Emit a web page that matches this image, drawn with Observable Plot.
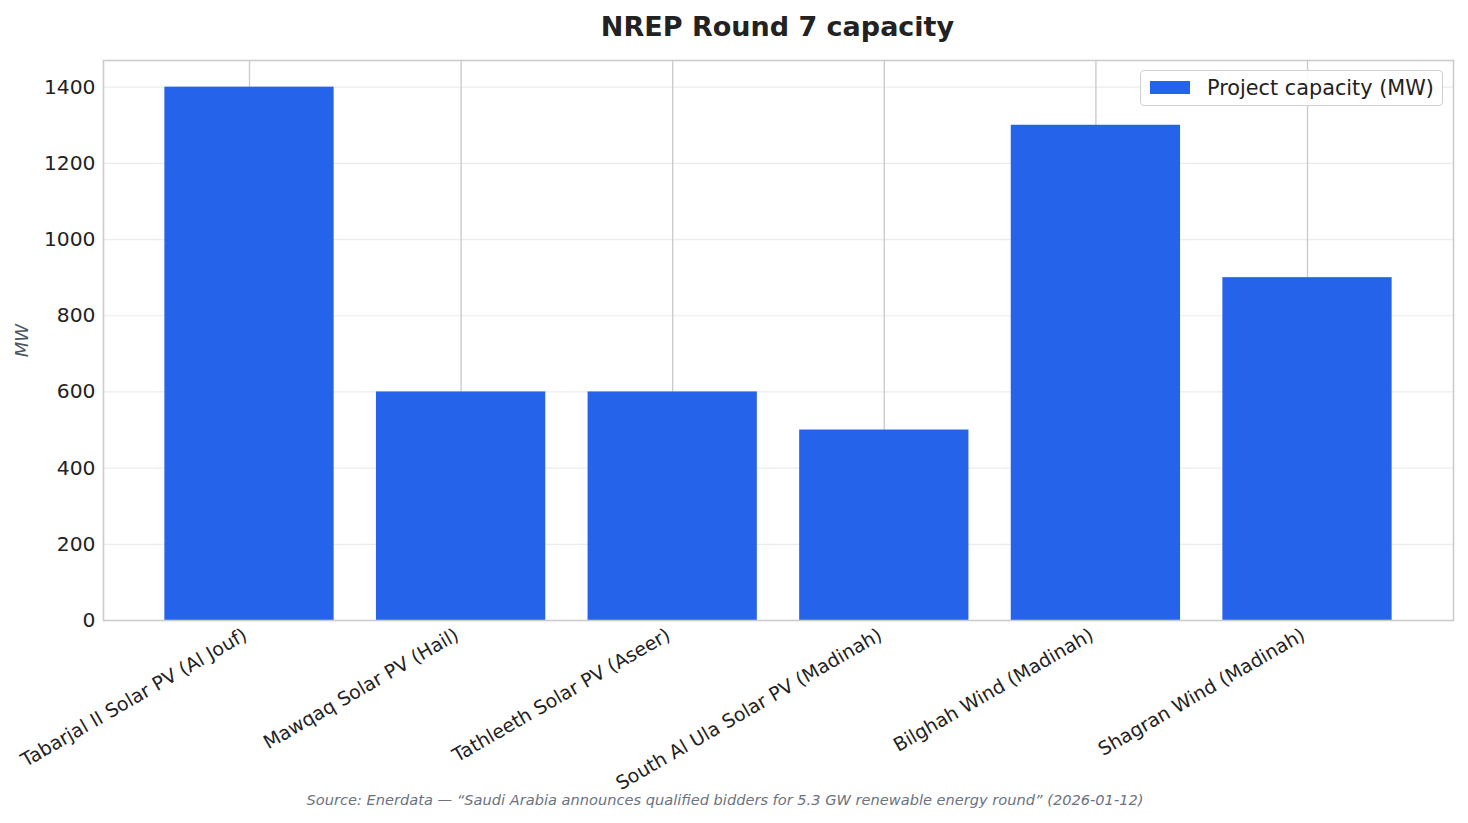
<!DOCTYPE html>
<html>
<head>
<meta charset="utf-8">
<script src="https://cdn.jsdelivr.net/npm/d3@7"></script>
<script src="https://cdn.jsdelivr.net/npm/@observablehq/plot@0.6"></script>
<style>
  body { margin: 0; background: #fff; font-family: "DejaVu Sans", sans-serif; }
  #wrap { position: relative; width: 1468px; height: 823px; overflow: hidden; }
  #title { height: 54px; line-height: 54px; padding-left: 103px; padding-right: 16px;
           text-align: center; font-size: 27px; font-weight: bold; color: #222; }
  #chart { position: relative; z-index: 1; }
  #caption { position: relative; z-index: 2; height: 43px; line-height: 40px; padding-right: 18px; text-align: center;
             font-size: 14.6px; font-style: italic; color: #6b7280; }
  #legend { position: absolute; z-index: 3; left: 1140px; top: 70px; width: 303px; height: 36px;
            border: 1px solid #cfcfcf; border-radius: 4px; background: rgba(255,255,255,0.85);
            box-sizing: border-box; }
  #legend .sw { position: absolute; left: 9px; top: 10px; width: 40px; height: 13px; background: #2563eb; }
  #legend .lb { position: absolute; left: 66px; top: 0; line-height: 34px; font-size: 20.8px; color: #222; white-space: nowrap; }
  svg text { font-family: "DejaVu Sans", sans-serif; }
</style>
</head>
<body>
<div id="wrap">
  <div id="title">NREP Round 7 capacity</div>
  <div id="chart"></div>
  <div id="caption">Source: Enerdata — “Saudi Arabia announces qualified bidders for 5.3 GW renewable energy round” (2026-01-12)</div>
  <div id="legend"><div class="sw"></div><div class="lb">Project capacity (MW)</div></div>
</div>
<script>
// NREP Round 7 projects and their capacities (MW)
const projects = [
  "Tabarjal II Solar PV (Al Jouf)",
  "Mawqaq Solar PV (Hail)",
  "Tathleeth Solar PV (Aseer)",
  "South Al Ula Solar PV (Madinah)",
  "Bilghah Wind (Madinah)",
  "Shagran Wind (Madinah)"
];
const capacityMW = [1400, 600, 600, 500, 1300, 900];
const yTicks = [0, 200, 400, 600, 800, 1000, 1200, 1400];

const rows = projects.map((p, i) => ({project: p, mw: capacityMW[i]}));

const chart = Plot.plot({
  width: 1468,
  height: 726,
  marginTop: 6,
  marginLeft: 103,
  marginRight: 15,
  marginBottom: 160,
  style: {fontFamily: "DejaVu Sans, sans-serif", color: "#222", background: "transparent", overflow: "visible"},
  x: {domain: projects, paddingInner: 0.2, paddingOuter: 0.29, round: false, label: null},
  y: {domain: [0, 1470], label: null},
  marks: [
    Plot.gridY(yTicks, {stroke: "#ebebeb", strokeOpacity: 1, strokeWidth: 1.2}),
    Plot.gridX(projects, {stroke: "#cccccc", strokeOpacity: 1, strokeWidth: 1.4}),
    Plot.barY(rows, {x: "project", y: "mw", fill: "#2563eb"}),
    Plot.frame({stroke: "#cccccc", strokeWidth: 1.6}),
    Plot.axisY(yTicks, {tickSize: 0, tickPadding: 8, fontSize: 20.3, tickFormat: d => String(d), label: null}),
    Plot.axisX({tickSize: 0, tickPadding: 13, dx: -4, tickRotate: -30, fontSize: 19, label: null}),
    Plot.text(["MW"], {frameAnchor: "left", dx: -81, rotate: -90, textAnchor: "middle", fontSize: 18, fontStyle: "italic", fill: "#4b5563"})
  ]
});
document.getElementById("chart").appendChild(chart);
</script>
</body>
</html>
